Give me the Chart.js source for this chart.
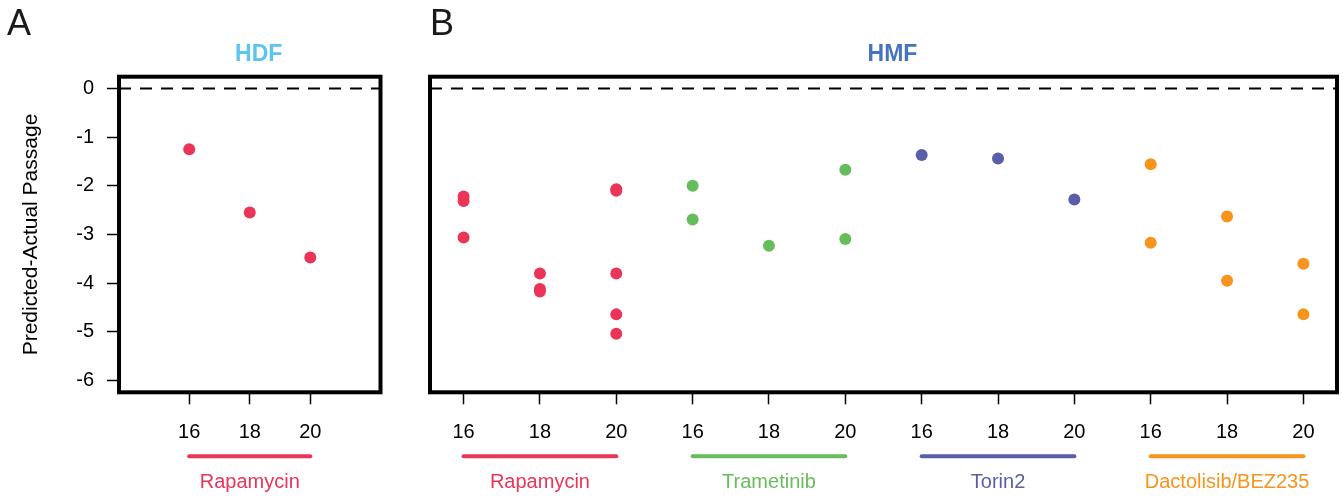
<!DOCTYPE html>
<html>
<head>
<meta charset="utf-8">
<script src="https://cdn.jsdelivr.net/npm/chart.js@4.4.1/dist/chart.umd.min.js"></script>
<style>
  body { margin: 0; background: #fff; }
  #wrap { position: relative; width: 1343px; height: 497px; }
  canvas { position: absolute; top: 0; }
</style>
</head>
<body>
<div id="wrap">
  <canvas id="hdf" width="400" height="497" style="left:0"></canvas>
  <canvas id="hmf" width="943" height="497" style="left:400px"></canvas>
</div>
<script>
const FONT = "'Liberation Sans', Arial, sans-serif";

const yTicks = [-6, -5, -4, -3, -2, -1, 0];
const yRange = [-6.24, 0.24];

// panel A: HDF, rapamycin only
const hdfPassage = [16, 18, 20];
const hdfDiff = [-1.25, -2.55, -3.47];
const hdfRange = [13.68, 22.32];

// panel B: HMF, four drugs at passages 16/18/20
const drugs = ['Rapamycin', 'Trametinib', 'Torin2', 'Dactolisib/BEZ235'];
const drugColors = ['#ea3458', '#67bd5c', '#5a5ea9', '#f7941d'];
const passageLabels = ['16', '18', '20'];

const rapaPassage = [16, 16, 16, 18, 18, 18, 20, 20, 20, 20, 20];
const rapaDiff = [-2.22, -2.31, -3.06, -3.80, -4.12, -4.17, -2.07, -2.10, -3.80, -4.64, -5.04];
const tramPassage = [16, 16, 18, 20, 20];
const tramDiff = [-2.00, -2.69, -3.23, -1.67, -3.09];
const torinPassage = [16, 18, 20];
const torinDiff = [-1.37, -1.44, -2.28];
const dactoPassage = [16, 16, 18, 18, 20, 20];
const dactoDiff = [-1.56, -3.17, -2.63, -3.95, -3.60, -4.64];

const hmfPassages = [rapaPassage, tramPassage, torinPassage, dactoPassage];
const hmfDiffs = [rapaDiff, tramDiff, torinDiff, dactoDiff];
const hmfRange = [0.56, 12.44];
const hmfLabels = drugs.flatMap(() => passageLabels);

Chart.defaults.font.family = FONT;
Chart.defaults.font.size = 20;
Chart.defaults.color = '#000';

// slot on the HMF x axis: drug block of three, then passage inside it
const slot = (d, p) => d * 3 + (p - 16) / 2 + 1;

const tickGrid = { drawOnChartArea: false, tickLength: 12, tickWidth: 1.5, tickColor: '#000' };

const decor = {
  id: 'decor',
  afterDatasetsDraw(chart, args, opts) {
    const { ctx, chartArea: a } = chart;
    const x = chart.scales.x;
    ctx.save();
    ctx.strokeStyle = '#000';
    ctx.lineWidth = 4;
    ctx.strokeRect(a.left, a.top, a.right - a.left, a.bottom - a.top);

    opts.groups.forEach(g => {
      const x1 = x.getPixelForValue(g.from), x2 = x.getPixelForValue(g.to);
      ctx.strokeStyle = g.color;
      ctx.lineWidth = 4;
      ctx.lineCap = 'round';
      ctx.beginPath();
      ctx.moveTo(x1, a.bottom + 64);
      ctx.lineTo(x2, a.bottom + 64);
      ctx.stroke();
      ctx.fillStyle = g.color;
      ctx.font = '20px ' + FONT;
      ctx.textAlign = 'center';
      ctx.textBaseline = 'alphabetic';
      ctx.fillText(g.name, (x1 + x2) / 2, a.bottom + 96);
    });

    ctx.fillStyle = opts.titleColor;
    ctx.font = 'bold 23px ' + FONT;
    ctx.textAlign = 'center';
    ctx.fillText(opts.title, (a.left + a.right) / 2 + 9, 61);

    ctx.fillStyle = '#1a1a1a';
    ctx.font = '36px ' + FONT;
    ctx.textAlign = 'left';
    ctx.fillText(opts.letter, opts.letterX, 35);
    ctx.restore();
  }
};

function zeroLine(range) {
  return {
    type: 'line',
    data: [{ x: range[0], y: 0 }, { x: range[1], y: 0 }],
    borderColor: '#000',
    borderWidth: 2,
    borderDash: [12, 9],
    pointRadius: 0,
    fill: false
  };
}

function points(xs, ys, color) {
  return {
    type: 'scatter',
    data: xs.map((v, i) => ({ x: v, y: ys[i] })),
    pointBackgroundColor: color,
    pointBorderWidth: 0,
    pointRadius: 6
  };
}

// A: HDF
new Chart(document.getElementById('hdf'), {
  type: 'scatter',
  data: {
    datasets: [
      points(hdfPassage, hdfDiff, drugColors[0]),
      zeroLine(hdfRange)
    ]
  },
  options: {
    responsive: false,
    animation: false,
    events: [],
    layout: { padding: { top: 76.7, right: 19.5, left: 0, bottom: 0 } },
    plugins: {
      legend: { display: false },
      tooltip: { enabled: false },
      decor: {
        title: 'HDF', titleColor: '#5bc4f1', letter: 'A', letterX: 7,
        groups: [{ name: drugs[0], color: drugColors[0], from: 16, to: 20 }]
      }
    },
    scales: {
      x: {
        type: 'linear',
        min: hdfRange[0], max: hdfRange[1],
        afterBuildTicks: s => { s.ticks = hdfPassage.map(v => ({ value: v })); },
        afterFit: s => { s.height = 104.7; },
        grid: tickGrid,
        border: { display: false },
        ticks: { padding: 16, maxRotation: 0, autoSkip: false }
      },
      y: {
        min: yRange[0], max: yRange[1],
        afterBuildTicks: s => { s.ticks = yTicks.map(v => ({ value: v })); },
        afterFit: s => { s.width = 119; },
        grid: tickGrid,
        border: { display: false },
        ticks: { padding: 13 },
        title: {
          display: true,
          text: 'Predicted-Actual Passage',
          font: { size: 21 },
          padding: { top: 19, bottom: 0 }
        }
      }
    }
  },
  plugins: [decor]
});

// B: HMF
const hmfSets = hmfPassages.map((ps, d) =>
  points(ps.map(p => slot(d, p)), hmfDiffs[d], drugColors[d]));
hmfSets.push(zeroLine(hmfRange));

new Chart(document.getElementById('hmf'), {
  type: 'scatter',
  data: { datasets: hmfSets },
  options: {
    responsive: false,
    animation: false,
    events: [],
    layout: { padding: { top: 76.7, right: 3, left: 30, bottom: 0 } },
    plugins: {
      legend: { display: false },
      tooltip: { enabled: false },
      decor: {
        title: 'HMF', titleColor: '#4674bf', letter: 'B', letterX: 30,
        groups: drugs.map((name, d) => ({
          name, color: drugColors[d], from: slot(d, 16), to: slot(d, 20)
        }))
      }
    },
    scales: {
      x: {
        type: 'linear',
        min: hmfRange[0], max: hmfRange[1],
        afterBuildTicks: s => { s.ticks = hmfLabels.map((l, i) => ({ value: i + 1 })); },
        afterFit: s => { s.height = 104.7; },
        grid: tickGrid,
        border: { display: false },
        ticks: { padding: 16, maxRotation: 0, autoSkip: false, callback: (v, i) => hmfLabels[i] }
      },
      y: {
        display: false,
        min: yRange[0], max: yRange[1]
      }
    }
  },
  plugins: [decor]
});
</script>
</body>
</html>
